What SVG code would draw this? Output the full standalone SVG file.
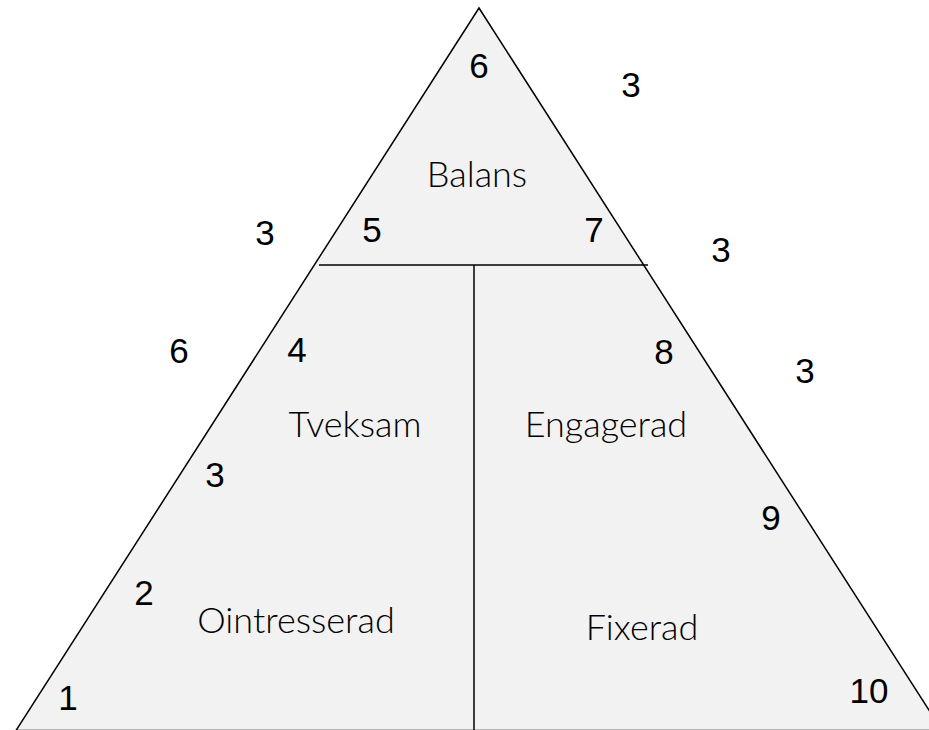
<svg xmlns="http://www.w3.org/2000/svg" width="929" height="730" viewBox="0 0 929 730">
<style>
.edge{fill:none;stroke:#000;stroke-width:1.5}
.num{font-family:"Liberation Sans",Arial,sans-serif;font-size:35px;fill:#000;text-anchor:middle}
.lbl{font-family:Lato,"Noto Sans",sans-serif;font-weight:300;font-size:36px;fill:#000;text-anchor:middle}
</style>
<rect width="929" height="730" fill="#fff"/>
<g id="pyramid">
<polygon points="479,8 16,730.5 942,730.5" fill="#f2f2f2" stroke="#000" stroke-width="1.5" stroke-linejoin="miter"/>
</g>
<g id="connectors">
<line class="edge" x1="319" y1="265" x2="648" y2="265"/>
<line class="edge" x1="474" y1="265" x2="474" y2="731"/>
</g>
<g id="node-balans"><text class="lbl" x="477" y="187">Balans</text></g>
<g id="node-tveksam"><text class="lbl" x="355" y="437">Tveksam</text></g>
<g id="node-engagerad"><text class="lbl" x="606" y="437">Engagerad</text></g>
<g id="node-ointresserad"><text class="lbl" x="296" y="633">Ointresserad</text></g>
<g id="node-fixerad"><text class="lbl" x="642" y="640">Fixerad</text></g>
<g id="numbers">
<text class="num" x="479" y="78">6</text>
<text class="num" x="631" y="97">3</text>
<text class="num" x="265" y="245">3</text>
<text class="num" x="372" y="242">5</text>
<text class="num" x="594" y="242">7</text>
<text class="num" x="721" y="262">3</text>
<text class="num" x="179" y="363">6</text>
<text class="num" x="297" y="362">4</text>
<text class="num" x="664" y="364">8</text>
<text class="num" x="805" y="383">3</text>
<text class="num" x="215" y="487">3</text>
<text class="num" x="771" y="530">9</text>
<text class="num" x="144" y="605">2</text>
<text class="num" x="68" y="710">1</text>
<text class="num" x="869" y="703">10</text>
</g>
</svg>
